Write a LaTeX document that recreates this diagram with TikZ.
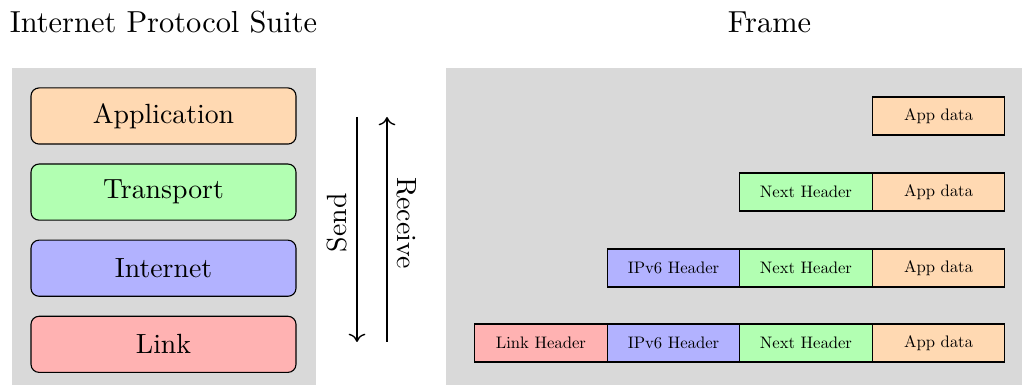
\documentclass[tikz,border=0pt]{standalone}
\usetikzlibrary{positioning}
\usetikzlibrary{arrows.meta}

\font\cellfont=cmr10 at 6pt

\tikzset{
  layer/.style={draw, rounded corners=2.9pt, minimum width=95.4pt, minimum height=20.2pt},
  cell/.style={draw, outer sep=0pt, minimum width=47.7pt, minimum height=13.7pt, inner sep=0pt, font=\cellfont},
  title/.style={anchor=base, font=\fontsize{10.95}{13}\selectfont},
  flow/.style={arrows={-To[length=3pt,width=6pt]}, line width=0.5pt},
}

\begin{document}
\begin{tikzpicture}[x=0.36pt,y=-0.36pt, node distance=6.8pt]
    \useasboundingbox (0,0) rectangle (1022,385);
    \fill[gray!30] (12,68) rectangle (316,385);
    \fill[gray!30] (446,68) rectangle (1022,385);

    \node[title] (suite) at (163.5,32.3) {Internet Protocol Suite};
    \node[title] (frame) at (769.5,32.3) {Frame};

    % layers
    \node[layer,fill=orange!30] (app) at (163.5,116) {Application};
    \node[layer,fill=green!30,below=of app] (trans) {Transport};
    \node[layer,fill=blue!30,below=of trans] (inet) {Internet};
    \node[layer,fill=red!30,below=of inet] (link) {Link};

    \coordinate (sendtop) at (357,117);
    \coordinate (sendbot) at (357,342);
    \coordinate (recvtop) at (387,117);
    \coordinate (recvbot) at (387,342);
    \draw [flow] (sendtop) -- node[pos=0.47,rotate=90,anchor=south] {Send} (sendbot);
    \draw [flow] (recvbot) -- node[pos=0.53,rotate=-90,anchor=south] {Receive} (recvtop);

    % frames
    \node[cell,fill=orange!30] (data1) at (938.5,116) {App data};

    \node[cell,fill=orange!30] (data2) at (938.5,192) {App data};
    \node[cell,fill=green!30,left=0pt of data2] (next2) {Next Header};

    \node[cell,fill=orange!30] (data3) at (938.5,268) {App data};
    \node[cell,fill=green!30,left=0pt of data3] (next3) {Next Header};
    \node[cell,fill=blue!30,left=0pt of next3] (ip3) {IPv6 Header};

    \node[cell,fill=orange!30] (data4) at (938.5,343) {App data};
    \node[cell,fill=green!30,left=0pt of data4] (next4) {Next Header};
    \node[cell,fill=blue!30,left=0pt of next4] (ip4) {IPv6 Header};
    \node[cell,fill=red!30,left=0pt of ip4] (lh4) {Link Header};
\end{tikzpicture}
\end{document}
